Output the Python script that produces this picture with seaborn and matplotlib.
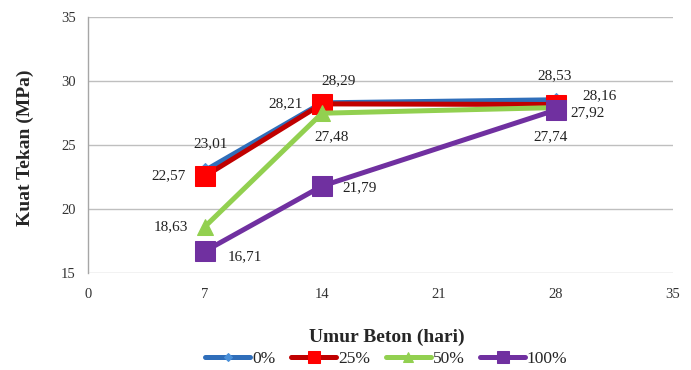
import matplotlib
matplotlib.use("Agg")
import matplotlib.pyplot as plt
import seaborn as sns
import pandas as pd

# Umur beton (hari) dan kuat tekan (MPa) untuk tiap persentase campuran
umur = [7, 14, 28]
series_names = ["0%", "25%", "50%", "100%"]
kuat_0 = [23.01, 28.29, 28.53]
kuat_25 = [22.57, 28.21, 28.16]
kuat_50 = [18.63, 27.48, 27.92]
kuat_100 = [16.71, 21.79, 27.74]

x_ticks = [0, 7, 14, 21, 28, 35]
y_ticks = [15, 20, 25, 30, 35]

values = [kuat_0, kuat_25, kuat_50, kuat_100]
df = pd.DataFrame({
    "umur": umur * 4,
    "kuat": sum(values, []),
    "campuran": [n for n in series_names for _ in umur],
})

sns.set_theme(style="white")
plt.rcParams["font.family"] = ["Liberation Serif", "DejaVu Serif"]

line_colors = {"0%": "#2F6EBA", "25%": "#C00000", "50%": "#92D050", "100%": "#7030A0"}
face_colors = {"0%": "#4A90D9", "25%": "#FF0000", "50%": "#92D050", "100%": "#7030A0"}
markers = {"0%": "D", "25%": "s", "50%": "^", "100%": "s"}
msizes = {"0%": 7, "25%": 14, "50%": 11, "100%": 14}

fig = plt.figure(figsize=(6.91, 3.70), dpi=100)
ax = fig.add_axes([0.1274, 0.2622, 0.8466, 0.692])

for name in series_names:
    sub = df[df["campuran"] == name]
    sns.lineplot(data=sub, x="umur", y="kuat", ax=ax, color=line_colors[name],
                 linewidth=3.6, marker=markers[name], markersize=msizes[name],
                 markerfacecolor=face_colors[name], markeredgecolor=face_colors[name],
                 label=name, zorder=3)

# Label nilai tiap titik: (dx, dy) dalam poin, serta perataan teks
offsets = {
    "0%": [(4, 19, "center"), (12, 16, "center"), (-1, 17, "center")],
    "25%": [(-14, 0, "right"), (-14, 0, "right"), (19, 6, "left")],
    "50%": [(-12, 0, "right"), (7, -17, "center"), (10, -4, "left")],
    "100%": [(16, -4, "left"), (15, -1, "left"), (-4, -19, "center")],
}
for name, vals in zip(series_names, values):
    for xv, yv, (dx, dy, ha) in zip(umur, vals, offsets[name]):
        ax.annotate(f"{yv:.2f}".replace(".", ","), (xv, yv), xytext=(dx, dy),
                    textcoords="offset points", ha=ha, va="center", fontsize=11,
                    color="#222222", zorder=5)

ax.set_xlim(0, 35)
ax.set_ylim(15, 35)
ax.set_xticks(x_ticks)
ax.set_yticks(y_ticks)
ax.tick_params(axis="x", labelsize=10.5, colors="#333333", length=0, pad=11)
ax.tick_params(axis="y", labelsize=10.5, colors="#333333", length=0, pad=9)
ax.yaxis.grid(True, color="#BFBFBF", linewidth=1)
ax.xaxis.grid(False)
for side in ["top", "right", "bottom"]:
    ax.spines[side].set_visible(False)
ax.spines["left"].set_color("#A6A6A6")
ax.spines["left"].set_linewidth(1)

ax.set_xlabel("Umur Beton (hari)", fontsize=14, fontweight="bold")
ax.xaxis.set_label_coords(0.511, -0.25)
ax.xaxis.label.set_va("center")
ax.set_ylabel("Kuat Tekan (MPa)", fontsize=14, fontweight="bold")
ax.yaxis.set_label_coords(-0.108, 0.49)
ax.yaxis.label.set_va("center")

ax.legend(loc="center", bbox_to_anchor=(0.51, -0.336), ncol=4, frameon=False,
          fontsize=12.5, handlelength=2.6, handletextpad=0.1, columnspacing=0.9,
          markerscale=0.6, borderpad=0.2)

fig.savefig("out.png", dpi=100)
